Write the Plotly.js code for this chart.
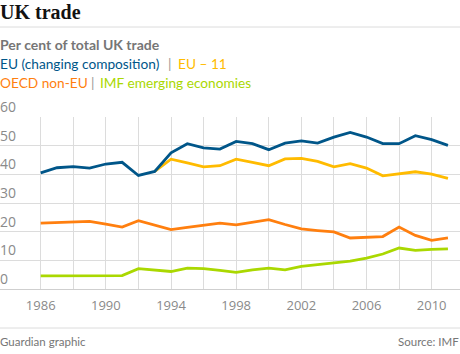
<!DOCTYPE html>
<html>
<head>
<meta charset="utf-8">
<script src="https://cdn.plot.ly/plotly-3.0.1.min.js"></script>
<style>html,body{margin:0;padding:0;background:#fff;}#chart{width:460px;height:354px;}</style>
</head>
<body>
<div id="chart"></div>
<script>
const years = [1986,1987,1988,1989,1990,1991,1992,1993,1994,1995,1996,1997,1998,1999,2000,2001,2002,2003,2004,2005,2006,2007,2008,2009,2010,2011];
const euChanging = [40.5,42.3,42.7,42.2,43.6,44.2,39.6,41.0,47.5,50.7,49.2,48.8,51.5,50.7,48.6,50.9,51.7,50.9,53.0,54.6,53.0,50.7,50.7,53.5,52.1,50.1];
const eu11 = [null,null,null,null,null,null,null,41.0,45.3,44.0,42.6,43.0,45.3,44.2,43.0,45.4,45.6,44.5,42.6,43.7,42.2,39.5,40.2,40.9,40.1,38.6];
const oecdNonEu = [23.0,23.2,23.4,23.6,22.6,21.6,23.8,22.2,20.7,21.5,22.2,23.0,22.4,23.3,24.2,22.5,21.0,20.4,19.9,17.8,18.0,18.3,21.6,18.7,17.0,17.8];
const imfEmerging = [4.6,4.6,4.6,4.7,4.7,4.7,7.1,6.6,6.1,7.3,7.1,6.5,5.8,6.7,7.3,6.7,7.9,8.5,9.1,9.7,10.8,12.2,14.3,13.5,13.8,14.0];
const xTickVals = [1986,1988,1990,1992,1994,1996,1998,2000,2002,2004,2006,2008,2010];
const xTickText = ["1986","","1990","","1994","","1998","","2002","","2006","","2010"];
const yTickVals = [0,10,20,30,40,50,60];

const W = 460, H = 354, T = 117.3, B = 289.3;
const px = x => x / W;
const py = y => (B - y) / (B - T);

const C = {blue:'#005689', yellow:'#ffbb00', orange:'#ff7f0f', green:'#aad801', grey:'#767676'};
const FONT = 'Lato, sans-serif';

function line(y, color) {
  return {x: years, y: y, type: 'scatter', mode: 'lines', line: {color: color, width: 2.8}, hoverinfo: 'skip', connectgaps: false};
}
const data = [
  line(oecdNonEu, C.orange),
  line(imfEmerging, C.green),
  line(eu11, C.yellow),
  line(euChanging, C.blue)
];

function ann(text, x, y, color, size, opts) {
  return Object.assign({text: text, x: px(x), y: py(y), xref: 'paper', yref: 'paper', showarrow: false,
    xanchor: 'left', yanchor: 'middle', borderpad: 0, font: {family: FONT, size: size, color: color}}, opts || {});
}

const layout = {
  width: W, height: H,
  margin: {l: 0, r: 0, t: T, b: H - B, pad: 0},
  paper_bgcolor: '#fff', plot_bgcolor: '#fff',
  showlegend: false,
  title: {text: 'UK trade', x: 0, xref: 'container', xanchor: 'left', y: 1 - 12/H, yref: 'container', yanchor: 'middle',
    font: {family: 'Liberation Serif, serif', size: 20, color: '#121212', weight: 'bold'}},
  xaxis: {range: [1986 - 40.7/16.29, 1986 + (W - 40.7)/16.29], tickvals: xTickVals, ticktext: xTickText,
    showgrid: true, gridcolor: '#dcdcdc', gridwidth: 1, zeroline: false, showline: true, linecolor: '#cfcfcf', linewidth: 1,
    ticks: '', ticklabelstandoff: 4, tickfont: {family: 'Open Sans, sans-serif', size: 13, color: '#8a8a8a'}, fixedrange: true},
  yaxis: {range: [0, 60], tickvals: yTickVals, showgrid: true, gridcolor: '#dcdcdc', gridwidth: 1, zeroline: false,
    ticks: '', ticklabelposition: 'inside top', ticklabeloverflow: 'allow', ticklabelstandoff: -3,
    tickfont: {family: 'Open Sans, sans-serif', size: 14, color: '#8a8a8a'}, fixedrange: true},
  shapes: [
    {type: 'line', xref: 'paper', yref: 'paper', x0: 0, x1: 1, y0: py(27.3), y1: py(27.3), line: {color: '#dcdcdc', width: 1}},
    {type: 'line', xref: 'paper', yref: 'paper', x0: 0, x1: 1, y0: py(328.3), y1: py(328.3), line: {color: '#dcdcdc', width: 1}}
  ],
  annotations: [
    ann('<b>Per cent of total UK trade</b>', -1, 45, C.grey, 14),
    ann('EU (changing composition)', -1, 64, C.blue, 13.7),
    ann('|', 167, 64, '#999', 13.7),
    ann('EU – 11', 177, 64, C.yellow, 13.7),
    ann('OECD non-EU', -1, 83, C.orange, 13.7),
    ann('|', 90, 83, '#999', 13.7),
    ann('IMF emerging economies', 99, 83, C.green, 13.7),
    ann('Guardian graphic', -1, 342, C.grey, 11.5),
    ann('Source: IMF', 460, 342, C.grey, 11.5, {xanchor: 'right'})
  ]
};

Plotly.newPlot('chart', data, layout, {displayModeBar: false, staticPlot: true});
</script>
</body>
</html>
